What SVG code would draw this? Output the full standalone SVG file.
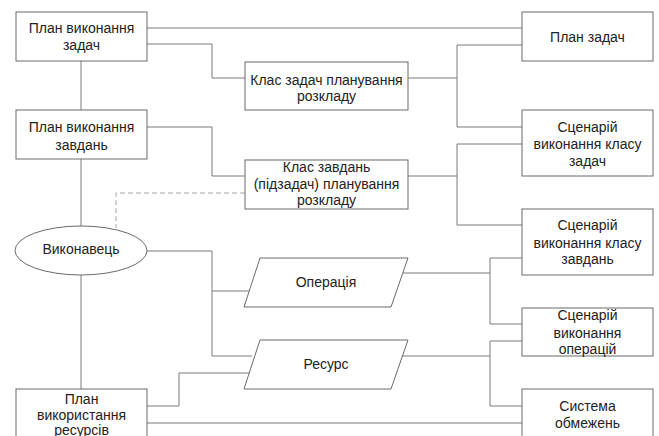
<svg xmlns="http://www.w3.org/2000/svg" width="659" height="436" viewBox="0 0 659 436">
<style>
.n{fill:#fff;stroke:#6a6a6a;stroke-width:1}
.t{font-family:"Liberation Sans",Arial,sans-serif;font-size:14px;fill:#222;text-anchor:middle}
.c{fill:none;stroke:#7a7a7a;stroke-width:1}
.d{fill:none;stroke:#a8a8a8;stroke-width:1;stroke-dasharray:5 3}
</style>
<rect width="659" height="436" fill="#fff"/>
<g id="connectors">
<polyline class="c" points="147,28 522,28"/>
<polyline class="c" points="147,44 212,44 212,78 245,78"/>
<polyline class="c" points="81,61 81,110"/>
<polyline class="c" points="147,127 212,127 212,176 245,176"/>
<polyline class="c" points="81,159 81,226"/>
<polyline class="d" points="245,193 116,193 116,228"/>
<polyline class="c" points="408,78 457,78"/>
<polyline class="c" points="522,45 457,45 457,127 522,127"/>
<polyline class="c" points="408,176 457,176"/>
<polyline class="c" points="522,144 457,144 457,225 522,225"/>
<polyline class="c" points="147,251 212,251 212,356 252,356"/>
<polyline class="c" points="212,291 250,291"/>
<polyline class="c" points="400,273 490,273"/>
<polyline class="c" points="522,258 490,258 490,324 522,324"/>
<polyline class="c" points="400,356 490,356"/>
<polyline class="c" points="522,341 490,341 490,406 522,406"/>
<polyline class="c" points="81,275 81,389"/>
<polyline class="c" points="147,406 179,406 179,373 249,373"/>
<polyline class="c" points="147,423 522,423"/>
</g>
<g id="plan-vykonannia-zadach">
<rect class="n" x="16" y="12" width="131" height="49"/>
<text class="t" x="81.5" y="33">План виконання</text>
<text class="t" x="81.5" y="50">задач</text>
</g>
<g id="klas-zadach">
<rect class="n" x="245" y="62" width="163" height="48"/>
<text class="t" x="326.5" y="85">Клас задач планування</text>
<text class="t" x="326.5" y="101">розкладу</text>
</g>
<g id="plan-vykonannia-zavdan">
<rect class="n" x="16" y="110" width="131" height="49"/>
<text class="t" x="81.5" y="132">План виконання</text>
<text class="t" x="81.5" y="150">завдань</text>
</g>
<g id="klas-zavdan">
<rect class="n" x="245" y="160" width="163" height="49"/>
<text class="t" x="326.5" y="172">Клас завдань</text>
<text class="t" x="326.5" y="189">(підзадач) планування</text>
<text class="t" x="326.5" y="205">розкладу</text>
</g>
<g id="plan-zadach">
<rect class="n" x="522" y="12" width="131" height="49"/>
<text class="t" x="587.5" y="42">План задач</text>
</g>
<g id="scenarii-klasu-zadach">
<rect class="n" x="522" y="110" width="131" height="66"/>
<text class="t" x="587.5" y="132">Сценарій</text>
<text class="t" x="587.5" y="149">виконання класу</text>
<text class="t" x="587.5" y="166">задач</text>
</g>
<g id="scenarii-klasu-zavdan">
<rect class="n" x="522" y="209" width="131" height="66"/>
<text class="t" x="587.5" y="230">Сценарій</text>
<text class="t" x="587.5" y="248">виконання класу</text>
<text class="t" x="587.5" y="264">завдань</text>
</g>
<g id="scenarii-operatsii">
<rect class="n" x="522" y="308" width="131" height="48"/>
<text class="t" x="587.5" y="320">Сценарій</text>
<text class="t" x="587.5" y="338">виконання</text>
<text class="t" x="587.5" y="354">операцій</text>
</g>
<g id="systema-obmezhen">
<rect class="n" x="522" y="389" width="131" height="60"/>
<text class="t" x="587.5" y="411">Система</text>
<text class="t" x="587.5" y="428">обмежень</text>
</g>
<g id="vykonavets">
<ellipse class="n" cx="81" cy="250.5" rx="66" ry="24.5"/>
<text class="t" x="81" y="254">Виконавець</text>
</g>
<g id="operatsiia">
<polygon class="n" points="260,258 408,258 391,307 244,307"/>
<text class="t" x="326" y="287">Операція</text>
</g>
<g id="resurs">
<polygon class="n" points="260,340 408,340 391,389 244,389"/>
<text class="t" x="326" y="369">Ресурс</text>
</g>
<g id="plan-vykorystannia-resursiv">
<rect class="n" x="16" y="389" width="131" height="60"/>
<text class="t" x="81.5" y="404">План</text>
<text class="t" x="81.5" y="420">використання</text>
<text class="t" x="81.5" y="435">ресурсів</text>
</g>
</svg>
